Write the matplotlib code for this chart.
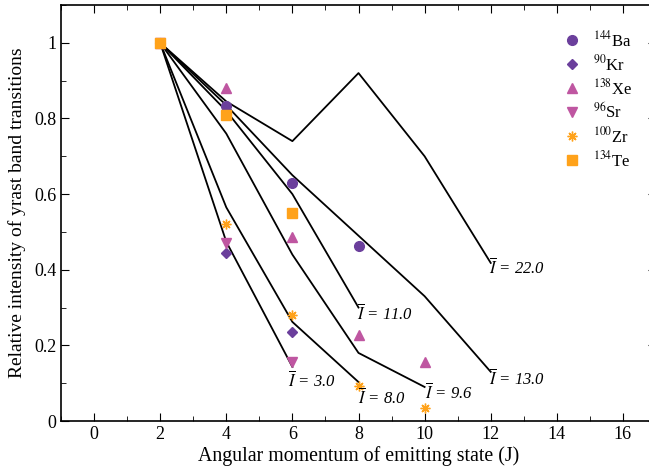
import matplotlib
matplotlib.use("Agg")
import matplotlib.pyplot as plt
from matplotlib.ticker import MultipleLocator

plt.rcParams["font.family"] = "Liberation Serif"
plt.rcParams["mathtext.fontset"] = "stix"

# measured points per nucleus
ba_j = [2, 4, 6, 8]
ba_i = [1.0, 0.833, 0.63, 0.463]
kr_j = [2, 4, 6]
kr_i = [1.0, 0.444, 0.235]
xe_j = [2, 4, 6, 8, 10]
xe_i = [1.0, 0.88, 0.487, 0.228, 0.157]
sr_j = [2, 4, 6]
sr_i = [1.0, 0.47, 0.156]
zr_j = [2, 4, 6, 8, 10]
zr_i = [1.0, 0.52, 0.28, 0.093, 0.034]
te_j = [2, 4, 6]
te_i = [1.0, 0.81, 0.55]

# model curves for mean angular momentum
l22_j = [2, 4, 6, 8, 10, 12]
l22_i = [1.0, 0.845, 0.74, 0.92, 0.70, 0.418]
l13_j = [2, 4, 6, 8, 10, 12]
l13_i = [1.0, 0.835, 0.65, 0.49, 0.33, 0.13]
l11_j = [2, 4, 6, 8]
l11_i = [1.0, 0.82, 0.60, 0.30]
l96_j = [2, 4, 6, 8, 10]
l96_i = [1.0, 0.76, 0.44, 0.18, 0.09]
l8_j = [2, 4, 6, 8]
l8_i = [1.0, 0.565, 0.262, 0.103]
l3_j = [2, 4, 6]
l3_i = [1.0, 0.474, 0.143]

purple = "#6b3f9c"
pink = "#bf56a1"
orange = "#ffa21a"

fig = plt.figure(figsize=(6.49, 4.68), dpi=100)
ax = fig.add_axes([61 / 649, 47 / 468, 595 / 649, 416 / 468])

for j, i in [(l22_j, l22_i), (l13_j, l13_i), (l11_j, l11_i),
             (l96_j, l96_i), (l8_j, l8_i), (l3_j, l3_i)]:
    ax.plot(j, i, color="black", lw=1.3, zorder=2)

ax.plot(ba_j, ba_i, "o", color=purple, ms=7, ls="none", label=r"$^{144}$Ba", zorder=3)
ax.plot(kr_j, kr_i, "D", color=purple, ms=5.5, ls="none", label=r"$^{90}$Kr", zorder=3)
ax.plot(xe_j, xe_i, "^", color=pink, ms=7.5, ls="none", label=r"$^{138}$Xe", zorder=3)
ax.plot(sr_j, sr_i, "v", color=pink, ms=7.5, ls="none", label=r"$^{96}$Sr", zorder=3)
ax.plot(zr_j, zr_i, marker=(8, 2, 0), color=orange, ms=7, mew=1.0, ls="none",
        label=r"$^{100}$Zr", zorder=3)
ax.plot(te_j, te_i, "s", color=orange, ms=6.5, ls="none", label=r"$^{134}$Te", zorder=4)

lab = r"$\overline{I}$ = "
tkw = dict(fontsize=12, fontstyle="italic", ha="left", va="center")
ax.text(11.95, 0.405, lab + "22.0", **tkw)
ax.text(11.95, 0.112, lab + "13.0", **tkw)
ax.text(7.95, 0.283, lab + "11.0", **tkw)
ax.text(10.02, 0.074, lab + "9.6", **tkw)
ax.text(8.0, 0.062, lab + "8.0", **tkw)
ax.text(5.88, 0.106, lab + "3.0", **tkw)

ax.set_xlim(-1, 17)
ax.set_ylim(0, 1.1)
ax.xaxis.set_major_locator(MultipleLocator(2))
ax.xaxis.set_minor_locator(MultipleLocator(1))
ax.yaxis.set_major_locator(MultipleLocator(0.2))
ax.yaxis.set_minor_locator(MultipleLocator(0.1))
ax.set_yticks([0, 0.2, 0.4, 0.6, 0.8, 1.0])
ax.set_yticklabels(["0", "0.2", "0.4", "0.6", "0.8", "1"])
ax.set_xticks(range(0, 17, 2))
ax.tick_params(which="both", direction="in", top=True, right=True, labelsize=13)
ax.tick_params(which="major", length=6)
ax.tick_params(which="minor", length=3.5)
for s in ax.spines.values():
    s.set_linewidth(1.2)

ax.set_xlabel("Angular momentum of emitting state (J)", fontsize=14.3, labelpad=2)
ax.set_ylabel("Relative intensity of yrast band transitions", fontsize=14, labelpad=6)

ax.legend(loc="upper left", bbox_to_anchor=(0.830, 0.940), frameon=False,
          fontsize=12, handlelength=2, handletextpad=0.3, labelspacing=0.24,
          borderaxespad=0, borderpad=0)

fig.savefig("out.png", dpi=100)
